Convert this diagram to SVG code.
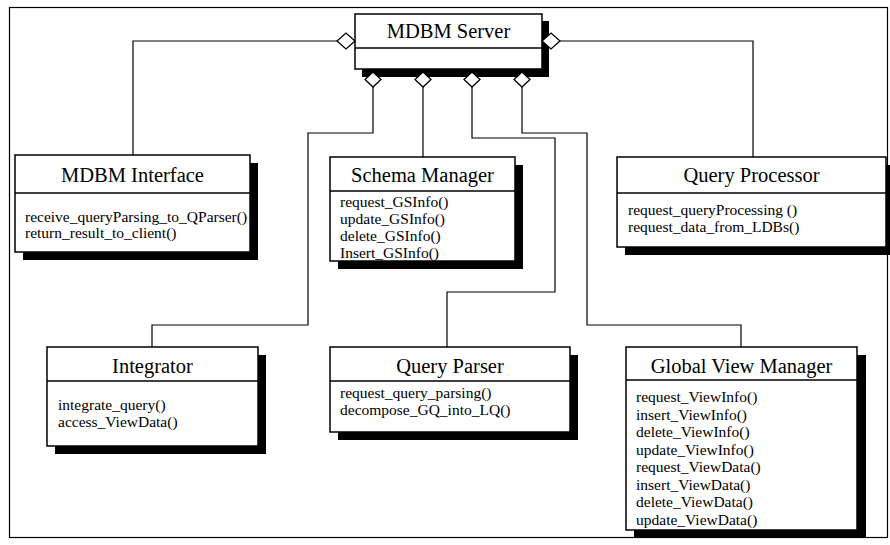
<svg xmlns="http://www.w3.org/2000/svg" width="890" height="545" viewBox="0 0 890 545">
<style>
.box{fill:#fff;stroke:#000;stroke-width:1.5}
.sh{fill:#000}
.div{stroke:#000;stroke-width:1.5}
.t{font-family:"Liberation Serif","Times New Roman",serif;font-size:20.5px;text-anchor:middle;fill:#000}
.m{font-family:"Liberation Serif","Times New Roman",serif;font-size:15.5px;fill:#000}
.c{fill:none;stroke:#000;stroke-width:1.2}
.d{fill:#fff;stroke:#000;stroke-width:1.3}
</style>
<rect width="890" height="545" fill="#fff"/>
<rect x="9.5" y="7.5" width="878" height="530" fill="none" stroke="#000" stroke-width="1.2"/>

<g id="connectors">
<polyline class="c" points="337,41 133,41 133,155"/>
<polyline class="c" points="560,41 753,41 753,157"/>
<polyline class="c" points="373,87 373,133 308,133 308,325 152,325 152,347"/>
<polyline class="c" points="423,87 423,157"/>
<polyline class="c" points="472,87 472,138 555,138 555,292 447,292 447,347"/>
<polyline class="c" points="522,87 522,133 587,133 587,325 741,325 741,347"/>
</g>

<g id="mdbm-server">
<rect class="sh" x="362" y="21" width="187" height="56"/>
<rect class="box" x="355" y="14" width="187" height="55"/>
<line class="div" x1="355" y1="48" x2="542" y2="48"/>
<text class="t" x="448.5" y="38">MDBM Server</text>
<polygon class="d" points="337,41 346,33 355,41 346,49"/>
<polygon class="d" points="542,41 551,33 560,41 551,49"/>
<polygon class="d" points="365,79.5 373,72 381,79.5 373,87"/>
<polygon class="d" points="415,79.5 423,72 431,79.5 423,87"/>
<polygon class="d" points="464,79.5 472,72 480,79.5 472,87"/>
<polygon class="d" points="514,79.5 522,72 530,79.5 522,87"/>
</g>

<g id="mdbm-interface">
<rect class="sh" x="23" y="163" width="235" height="97"/>
<rect class="box" x="15" y="155" width="235" height="97"/>
<line class="div" x1="15" y1="193" x2="250" y2="193"/>
<text class="t" x="132.5" y="182">MDBM Interface</text>
<text class="m" x="25" y="222">receive_queryParsing_to_QParser()</text>
<text class="m" x="25" y="238">return_result_to_client()</text>
</g>

<g id="schema-manager">
<rect class="sh" x="338" y="165" width="185" height="104"/>
<rect class="box" x="330" y="157" width="185" height="104"/>
<line class="div" x1="330" y1="191" x2="515" y2="191"/>
<text class="t" x="422.5" y="182">Schema Manager</text>
<text class="m" x="340" y="207">request_GSInfo()</text>
<text class="m" x="340" y="224">update_GSInfo()</text>
<text class="m" x="340" y="241">delete_GSInfo()</text>
<text class="m" x="340" y="258">Insert_GSInfo()</text>
</g>

<g id="query-processor">
<rect class="sh" x="625" y="165" width="269" height="90"/>
<rect class="box" x="617" y="157" width="269" height="90"/>
<line class="div" x1="617" y1="193" x2="886" y2="193"/>
<text class="t" x="751.5" y="182">Query Processor</text>
<text class="m" x="628" y="215">request_queryProcessing ()</text>
<text class="m" x="628" y="232">request_data_from_LDBs()</text>
</g>

<g id="integrator">
<rect class="sh" x="55" y="355" width="211" height="99"/>
<rect class="box" x="47" y="347" width="211" height="99"/>
<line class="div" x1="47" y1="381" x2="258" y2="381"/>
<text class="t" x="152.5" y="373">Integrator</text>
<text class="m" x="58" y="410">integrate_query()</text>
<text class="m" x="58" y="427">access_ViewData()</text>
</g>

<g id="query-parser">
<rect class="sh" x="338" y="355" width="240" height="85"/>
<rect class="box" x="330" y="347" width="240" height="85"/>
<line class="div" x1="330" y1="381" x2="570" y2="381"/>
<text class="t" x="450" y="373">Query Parser</text>
<text class="m" x="340" y="398">request_query_parsing()</text>
<text class="m" x="340" y="415">decompose_GQ_into_LQ()</text>
</g>

<g id="global-view-manager">
<rect class="sh" x="634" y="355" width="232" height="183"/>
<rect class="box" x="626" y="347" width="231" height="183"/>
<line class="div" x1="626" y1="380" x2="857" y2="380"/>
<text class="t" x="741.5" y="373">Global View Manager</text>
<text class="m" x="636" y="402">request_ViewInfo()</text>
<text class="m" x="636" y="420">insert_ViewInfo()</text>
<text class="m" x="636" y="437">delete_ViewInfo()</text>
<text class="m" x="636" y="455">update_ViewInfo()</text>
<text class="m" x="636" y="472">request_ViewData()</text>
<text class="m" x="636" y="490">insert_ViewData()</text>
<text class="m" x="636" y="507">delete_ViewData()</text>
<text class="m" x="636" y="525">update_ViewData()</text>
</g>
</svg>
